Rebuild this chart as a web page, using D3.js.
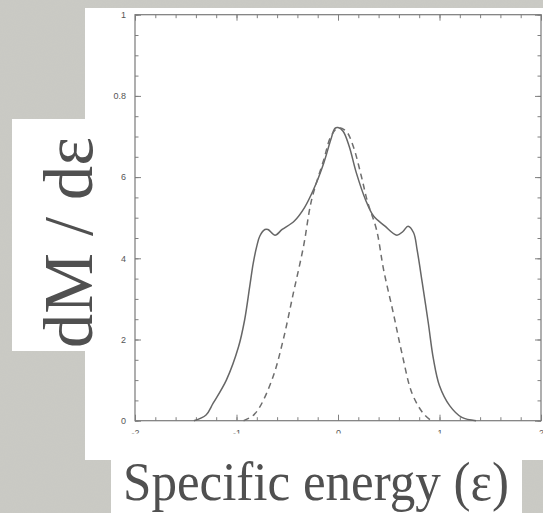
<!DOCTYPE html>
<html>
<head>
<meta charset="utf-8">
<script src="https://cdn.jsdelivr.net/npm/d3@7/dist/d3.min.js"></script>
<style>
  html, body { margin: 0; padding: 0; background: #c9c9c3; }
  svg { display: block; }
</style>
</head>
<body>
<svg id="chart" width="543" height="513"></svg>
<script>
// ---- data ----
const solidX = [-1.42, -1.30, -1.23, -1.10, -0.98, -0.92, -0.87, -0.835, -0.80, -0.77, -0.72, -0.69, -0.62, -0.55, -0.43, -0.33, -0.24, -0.14, -0.07, -0.03, 0.00, 0.05, 0.11, 0.18, 0.27, 0.35, 0.46, 0.58, 0.64, 0.69, 0.745, 0.78, 0.83, 0.89, 0.94, 1.00, 1.10, 1.22, 1.36];
const solidY = [0.000, 0.014, 0.043, 0.100, 0.182, 0.248, 0.330, 0.388, 0.430, 0.455, 0.471, 0.471, 0.457, 0.471, 0.492, 0.525, 0.570, 0.635, 0.693, 0.720, 0.722, 0.713, 0.676, 0.611, 0.545, 0.504, 0.480, 0.457, 0.466, 0.479, 0.463, 0.420, 0.340, 0.240, 0.152, 0.086, 0.037, 0.008, 0.000];
const dashedX = [-0.93, -0.84, -0.77, -0.64, -0.54, -0.44, -0.34, -0.26, -0.14, -0.07, 0.00, 0.08, 0.15, 0.23, 0.29, 0.38, 0.45, 0.545, 0.63, 0.73, 0.84, 0.92];
const dashedY = [0.000, 0.012, 0.034, 0.108, 0.199, 0.314, 0.429, 0.544, 0.643, 0.700, 0.721, 0.713, 0.676, 0.602, 0.540, 0.470, 0.371, 0.265, 0.166, 0.067, 0.018, 0.000];
const yTickValues = [0, 0.2, 0.4, 0.6, 0.8, 1];
const yTickLabels = ["0", "2", "4", "6", "0.8", "1"];
const xTickValues = [-2, -1, 0, 1, 2];
const xTickLabels = ["-2", "-1", "0", "1", "2"];
const yLabel = "dM / dε";
const xLabel = "Specific energy (ε)";

// ---- layout ----
const svg = d3.select("#chart");
const W = 543, H = 513;
const plot = {left: 135, right: 541, top: 14.7, bottom: 420.7};
const x = d3.scaleLinear().domain([-2, 2]).range([plot.left, plot.right]);
const y = d3.scaleLinear().domain([0, 1]).range([plot.bottom, plot.top]);

// background with subtle texture
const defs = svg.append("defs");
const f = defs.append("filter").attr("id", "grain").attr("x", 0).attr("y", 0).attr("width", "100%").attr("height", "100%");
f.append("feTurbulence").attr("type", "fractalNoise").attr("baseFrequency", 0.9).attr("numOctaves", 2).attr("seed", 3).attr("result", "noise");
f.append("feColorMatrix").attr("in", "noise").attr("type", "matrix")
  .attr("values", "0 0 0 0 0.5  0 0 0 0 0.5  0 0 0 0 0.48  0 0 0 0.10 0").attr("result", "g");
f.append("feComposite").attr("in", "g").attr("in2", "SourceGraphic").attr("operator", "over");
svg.append("rect").attr("width", W).attr("height", H).attr("fill", "#cacac4").attr("filter", "url(#grain)");

// white panels
svg.append("rect").attr("x", 85).attr("y", 8).attr("width", W - 85).attr("height", 452).attr("fill", "#ffffff");
svg.append("rect").attr("x", 12).attr("y", 119).attr("width", 74).attr("height", 232).attr("fill", "#ffffff");

// clip for x tick labels (only their tops are visible in the reference)
defs.append("clipPath").attr("id", "xlabclip").attr("clipPathUnits", "userSpaceOnUse").append("rect")
  .attr("x", 0).attr("y", 0).attr("width", W).attr("height", 433.5);

const tickColor = "#808080";
function styleAxis(g) {
  g.select(".domain").remove();
  g.selectAll(".tick line").attr("stroke", tickColor).attr("stroke-width", 1);
  g.selectAll(".tick text").attr("fill", "#555").attr("font-family", "Liberation Sans, Arial, sans-serif").attr("font-size", 9);
}

const yMinor = d3.range(0, 1.0001, 0.05);
const xMinor = d3.range(-2, 2.0001, 0.2);

// left axis
svg.append("g").attr("transform", `translate(${plot.left},0)`)
  .call(d3.axisLeft(y).tickValues(yMinor).tickSize(-3.5).tickFormat("")).call(styleAxis);
svg.append("g").attr("transform", `translate(${plot.left},0)`)
  .call(d3.axisLeft(y).tickValues(yTickValues).tickSize(-6).tickPadding(9)
    .tickFormat((d, i) => yTickLabels[i])).call(styleAxis);
// right axis
svg.append("g").attr("transform", `translate(${plot.right},0)`)
  .call(d3.axisRight(y).tickValues(yMinor).tickSize(-3.5).tickFormat("")).call(styleAxis);
svg.append("g").attr("transform", `translate(${plot.right},0)`)
  .call(d3.axisRight(y).tickValues(yTickValues).tickSize(-6).tickFormat("")).call(styleAxis);
// top axis
svg.append("g").attr("transform", `translate(0,${plot.top})`)
  .call(d3.axisTop(x).tickValues(xMinor).tickSize(-3.5).tickFormat("")).call(styleAxis);
svg.append("g").attr("transform", `translate(0,${plot.top})`)
  .call(d3.axisTop(x).tickValues(xTickValues).tickSize(-6).tickFormat("")).call(styleAxis);
// bottom axis
svg.append("g").attr("transform", `translate(0,${plot.bottom})`)
  .call(d3.axisBottom(x).tickValues(xMinor).tickSize(-3.5).tickFormat("")).call(styleAxis);
svg.append("g").attr("clip-path", "url(#xlabclip)")
  .append("g").attr("transform", `translate(0,${plot.bottom})`)
  .call(d3.axisBottom(x).tickValues(xTickValues).tickSize(-6).tickPadding(9)
    .tickFormat((d, i) => xTickLabels[i])).call(styleAxis);

// frame
svg.append("rect").attr("x", plot.left).attr("y", plot.top)
  .attr("width", plot.right - plot.left).attr("height", plot.bottom - plot.top)
  .attr("fill", "none").attr("stroke", "#7a7a7a").attr("stroke-width", 1.2);

// curves
const line = d3.line().x(d => x(d[0])).y(d => y(d[1])).curve(d3.curveCatmullRom.alpha(0.5));
svg.append("path").datum(solidX.map((v, i) => [v, solidY[i]]))
  .attr("d", line).attr("fill", "none").attr("stroke", "#666").attr("stroke-width", 1.5);
svg.append("path").datum(dashedX.map((v, i) => [v, dashedY[i]]))
  .attr("d", line).attr("fill", "none").attr("stroke", "#6e6e6e").attr("stroke-width", 1.5)
  .attr("stroke-dasharray", "6,4.5");

// x label panel and text
svg.append("rect").attr("x", 111).attr("y", 460).attr("width", 411).attr("height", H - 460).attr("fill", "#ffffff");
svg.append("text").attr("x", 123).attr("y", 500)
  .attr("font-family", "Liberation Serif, DejaVu Serif, serif").attr("font-size", 54)
  .attr("fill", "#505050").attr("textLength", 386).attr("lengthAdjust", "spacingAndGlyphs")
  .text(xLabel);

// y label
svg.append("text").attr("transform", "translate(92,348) rotate(-90)")
  .attr("font-family", "Liberation Serif, DejaVu Serif, serif").attr("font-size", 70)
  .attr("fill", "#505050").attr("textLength", 211).attr("lengthAdjust", "spacingAndGlyphs")
  .text(yLabel);
</script>
</body>
</html>
